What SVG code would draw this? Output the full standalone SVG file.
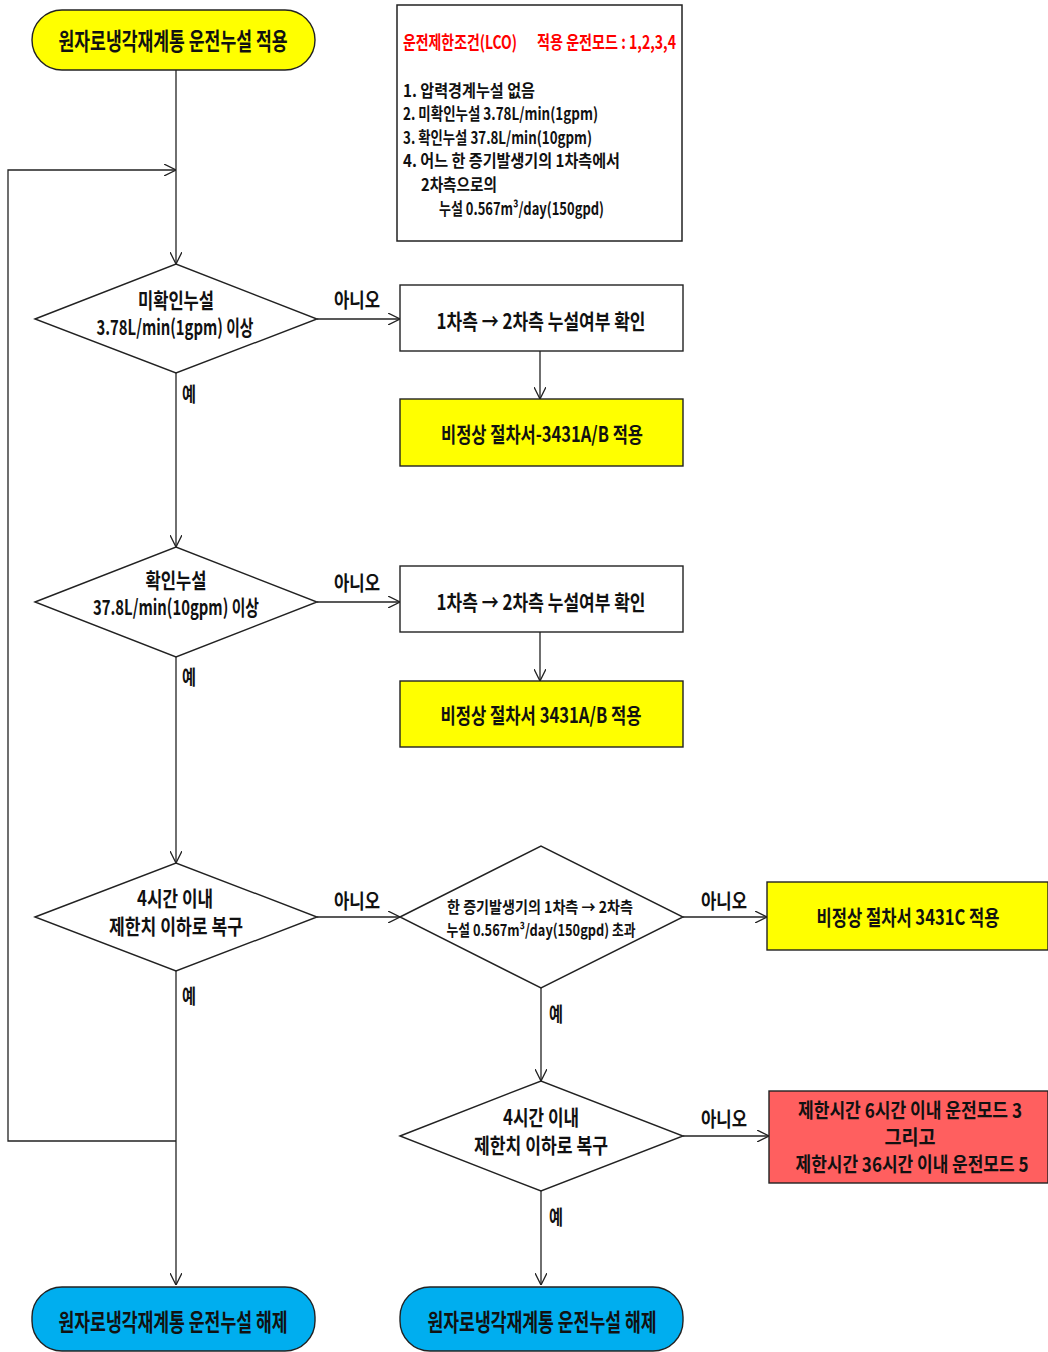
<svg xmlns="http://www.w3.org/2000/svg" width="1048" height="1352" viewBox="0 0 1048 1352">
<style>
text{font-family:"Noto Sans CJK KR","Noto Sans",sans-serif;font-weight:bold;fill:#111}
.c{text-anchor:middle}
.t{font-size:24px}
.d{font-size:21px}
.b{font-size:21px}
.rb{font-size:20px}
.l{font-size:20px}
.i{font-size:17px}
.r{font-size:18px;fill:#FF0000}
.s{font-size:16px}
.shape{stroke:#222;stroke-width:1.4}
.con{fill:none;stroke:#222;stroke-width:1.3;marker-end:url(#ah)}
</style>
<defs>
<marker id="ah" viewBox="0 0 12 12" refX="12" refY="6" markerWidth="12" markerHeight="12" markerUnits="userSpaceOnUse" orient="auto">
<path d="M0,0 L12,6 L0,12" fill="none" stroke="#222" stroke-width="1.3"/>
</marker>
</defs>
<rect width="1048" height="1352" fill="#fff"/>

<g id="connectors">
<path class="con" d="M176,70 V264"/>
<path class="con" d="M176,1141 H8 V170 H176"/>
<path class="con" d="M317,319 H400"/>
<path class="con" d="M540,351 V399"/>
<path class="con" d="M176,373 V547"/>
<path class="con" d="M317,602 H400"/>
<path class="con" d="M540,632 V681"/>
<path class="con" d="M176,657 V863"/>
<path class="con" d="M317,917 H400"/>
<path class="con" d="M683,917 H767"/>
<path class="con" d="M541,988 V1081"/>
<path class="con" d="M683,1136 H769"/>
<path class="con" d="M541,1191 V1285"/>
<path class="con" d="M176,971 V1285"/>
<text class="l c" x="357" y="308" textLength="46" lengthAdjust="spacingAndGlyphs">아니오</text>
<text class="l c" x="189" y="402" textLength="14" lengthAdjust="spacingAndGlyphs">예</text>
<text class="l c" x="357" y="591" textLength="46" lengthAdjust="spacingAndGlyphs">아니오</text>
<text class="l c" x="189" y="685" textLength="14" lengthAdjust="spacingAndGlyphs">예</text>
<text class="l c" x="357" y="909" textLength="46" lengthAdjust="spacingAndGlyphs">아니오</text>
<text class="l c" x="189" y="1004" textLength="14" lengthAdjust="spacingAndGlyphs">예</text>
<text class="l c" x="724" y="909" textLength="46" lengthAdjust="spacingAndGlyphs">아니오</text>
<text class="l c" x="556" y="1022" textLength="14" lengthAdjust="spacingAndGlyphs">예</text>
<text class="l c" x="724" y="1127" textLength="46" lengthAdjust="spacingAndGlyphs">아니오</text>
<text class="l c" x="556" y="1225" textLength="14" lengthAdjust="spacingAndGlyphs">예</text>
</g>

<g id="start">
<rect class="shape" x="32" y="10" width="283" height="60" rx="30" fill="#FFFF00"/>
<text class="t c" x="173" y="50" textLength="229" lengthAdjust="spacingAndGlyphs">원자로냉각재계통 운전누설 적용</text>
</g>

<g id="lco">
<rect x="397" y="5" width="285" height="236" fill="#fff" stroke="#222" stroke-width="1.5"/>
<text class="r" x="403" y="49" textLength="114" lengthAdjust="spacingAndGlyphs">운전제한조건(LCO)</text>
<text class="r" x="537" y="49" textLength="139" lengthAdjust="spacingAndGlyphs">적용 운전모드 : 1,2,3,4</text>
<text class="i" x="403" y="97" textLength="132" lengthAdjust="spacingAndGlyphs">1.  압력경계누설 없음</text>
<text class="i" x="403" y="120" textLength="195" lengthAdjust="spacingAndGlyphs">2.  미확인누설 3.78L/min(1gpm)</text>
<text class="i" x="403" y="144" textLength="189" lengthAdjust="spacingAndGlyphs">3.  확인누설 37.8L/min(10gpm)</text>
<text class="i" x="403" y="167" textLength="217" lengthAdjust="spacingAndGlyphs">4.  어느 한 증기발생기의 1차측에서</text>
<text class="i" x="421" y="191" textLength="76" lengthAdjust="spacingAndGlyphs">2차측으로의</text>
<text class="i" x="439" y="215" textLength="165" lengthAdjust="spacingAndGlyphs">누설 0.567m³/day(150gpd)</text>
</g>

<g id="d1">
<polygon class="shape" points="35,319 176,264 317,319 176,373" fill="#fff"/>
<text class="d c" x="176" y="308" textLength="76" lengthAdjust="spacingAndGlyphs">미확인누설</text>
<text class="d c" x="175" y="335" textLength="157" lengthAdjust="spacingAndGlyphs">3.78L/min(1gpm) 이상</text>
</g>

<g id="box1">
<rect class="shape" x="400" y="285" width="283" height="66" fill="#fff"/>
<text class="b c" x="541" y="329" textLength="209" lengthAdjust="spacingAndGlyphs">1차측 → 2차측 누설여부 확인</text>
</g>

<g id="proc1">
<rect class="shape" x="400" y="399" width="283" height="67" fill="#FFFF00"/>
<text class="b c" x="542" y="442" textLength="202" lengthAdjust="spacingAndGlyphs">비정상 절차서-3431A/B 적용</text>
</g>

<g id="d2">
<polygon class="shape" points="35,602 176,547 317,602 176,657" fill="#fff"/>
<text class="d c" x="176" y="588" textLength="61" lengthAdjust="spacingAndGlyphs">확인누설</text>
<text class="d c" x="176" y="615" textLength="166" lengthAdjust="spacingAndGlyphs">37.8L/min(10gpm) 이상</text>
</g>

<g id="box2">
<rect class="shape" x="400" y="566" width="283" height="66" fill="#fff"/>
<text class="b c" x="541" y="610" textLength="209" lengthAdjust="spacingAndGlyphs">1차측 → 2차측 누설여부 확인</text>
</g>

<g id="proc2">
<rect class="shape" x="400" y="681" width="283" height="66" fill="#FFFF00"/>
<text class="b c" x="541" y="723" textLength="201" lengthAdjust="spacingAndGlyphs">비정상 절차서 3431A/B 적용</text>
</g>

<g id="d3">
<polygon class="shape" points="35,917 176,863 317,917 176,971" fill="#fff"/>
<text class="d c" x="175" y="906" textLength="76" lengthAdjust="spacingAndGlyphs">4시간 이내</text>
<text class="d c" x="176" y="934" textLength="134" lengthAdjust="spacingAndGlyphs">제한치 이하로 복구</text>
</g>

<g id="d4">
<polygon class="shape" points="400,917 541,846 683,917 541,988" fill="#fff"/>
<text class="s c" x="540" y="913" textLength="186" lengthAdjust="spacingAndGlyphs">한 증기발생기의 1차측 → 2차측</text>
<text class="s c" x="541" y="936" textLength="189" lengthAdjust="spacingAndGlyphs">누설 0.567m³/day(150gpd) 초과</text>
</g>

<g id="proc3">
<rect class="shape" x="767" y="882" width="281" height="68" fill="#FFFF00"/>
<text class="b c" x="908" y="925" textLength="183" lengthAdjust="spacingAndGlyphs">비정상 절차서 3431C 적용</text>
</g>

<g id="d5">
<polygon class="shape" points="400,1136 541,1081 683,1136 541,1191" fill="#fff"/>
<text class="d c" x="541" y="1125" textLength="76" lengthAdjust="spacingAndGlyphs">4시간 이내</text>
<text class="d c" x="541" y="1153" textLength="134" lengthAdjust="spacingAndGlyphs">제한치 이하로 복구</text>
</g>

<g id="limit">
<rect class="shape" x="769" y="1091" width="279" height="92" fill="#FF5F5F"/>
<text class="rb c" x="910" y="1118" textLength="224" lengthAdjust="spacingAndGlyphs">제한시간 6시간 이내 운전모드 3</text>
<text class="rb c" x="910" y="1145" textLength="51" lengthAdjust="spacingAndGlyphs">그리고</text>
<text class="rb c" x="912" y="1172" textLength="233" lengthAdjust="spacingAndGlyphs">제한시간 36시간 이내 운전모드 5</text>
</g>

<g id="end1">
<rect class="shape" x="32" y="1287" width="283" height="64" rx="30" fill="#00AEEF"/>
<text class="t c" x="173" y="1331" textLength="229" lengthAdjust="spacingAndGlyphs">원자로냉각재계통 운전누설 해제</text>
</g>

<g id="end2">
<rect class="shape" x="400" y="1287" width="283" height="64" rx="30" fill="#00AEEF"/>
<text class="t c" x="542" y="1331" textLength="229" lengthAdjust="spacingAndGlyphs">원자로냉각재계통 운전누설 해제</text>
</g>
</svg>
